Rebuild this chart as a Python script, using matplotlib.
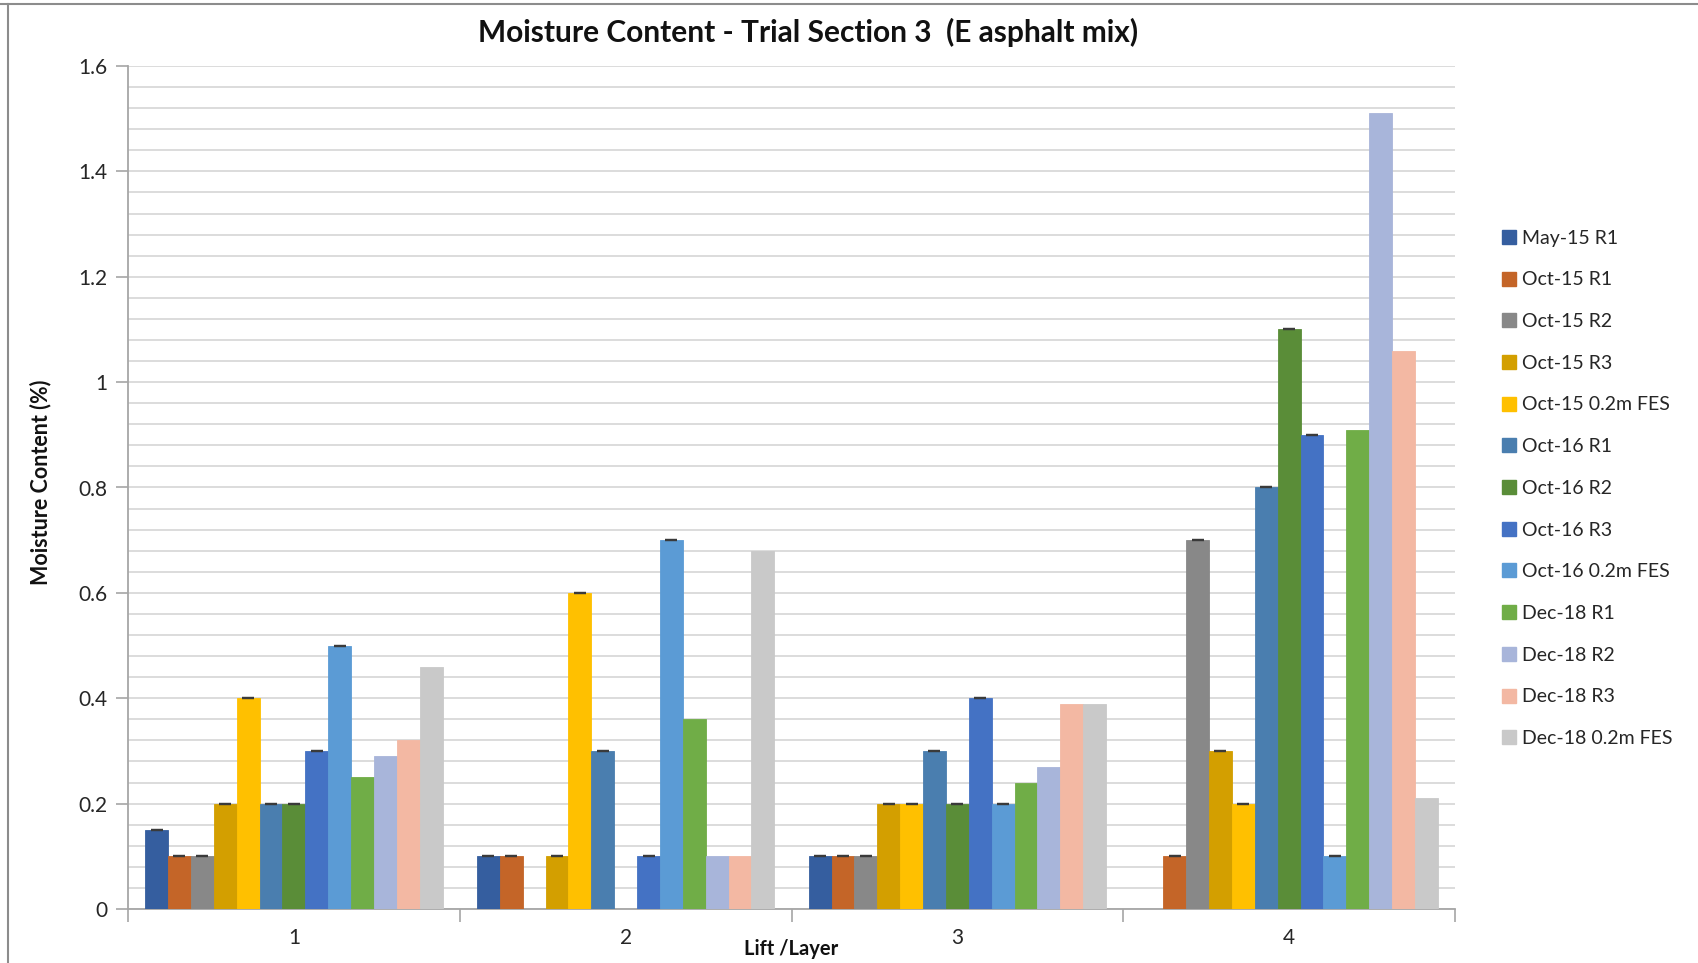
import numpy as np
import matplotlib
matplotlib.use("Agg")
import matplotlib.pyplot as plt
from matplotlib.ticker import MultipleLocator, FixedLocator, NullFormatter
from matplotlib.lines import Line2D

# Lift / layer categories
layers = ["1", "2", "3", "4"]

# Moisture content (%) per survey series; nan = no measurement
may15_r1 = [0.15, 0.10, 0.10, np.nan]
oct15_r1 = [0.10, 0.10, 0.10, 0.10]
oct15_r2 = [0.10, np.nan, 0.10, 0.70]
oct15_r3 = [0.20, 0.10, 0.20, 0.30]
oct15_fes = [0.40, 0.60, 0.20, 0.20]
oct16_r1 = [0.20, 0.30, 0.30, 0.80]
oct16_r2 = [0.20, np.nan, 0.20, 1.10]
oct16_r3 = [0.30, 0.10, 0.40, 0.90]
oct16_fes = [0.50, 0.70, 0.20, 0.10]
dec18_r1 = [0.25, 0.36, 0.24, 0.91]
dec18_r2 = [0.29, 0.10, 0.27, 1.51]
dec18_r3 = [0.32, 0.10, 0.39, 1.06]
dec18_fes = [0.46, 0.68, 0.39, 0.21]

series_names = ["May-15 R1", "Oct-15 R1", "Oct-15 R2", "Oct-15 R3", "Oct-15 0.2m FES",
                "Oct-16 R1", "Oct-16 R2", "Oct-16 R3", "Oct-16 0.2m FES",
                "Dec-18 R1", "Dec-18 R2", "Dec-18 R3", "Dec-18 0.2m FES"]
series_values = [may15_r1, oct15_r1, oct15_r2, oct15_r3, oct15_fes,
                 oct16_r1, oct16_r2, oct16_r3, oct16_fes,
                 dec18_r1, dec18_r2, dec18_r3, dec18_fes]
series_colors = ["#355E9F", "#C46528", "#888888", "#D39F00", "#FFC000",
                 "#4A7EAF", "#5A8D38", "#4472C4", "#5B9BD5",
                 "#70AD47", "#A8B5DA", "#F3B8A3", "#C9C9C9"]
# series plotted with (zero-length) error bars
with_errorbars = [True] * 9 + [False] * 4

plt.rcParams["font.family"] = ["Lato", "DejaVu Sans"]

fig = plt.figure(figsize=(16.98, 9.63), dpi=100)
ax = fig.add_axes([128 / 1698, 1 - 909 / 963, (1455 - 128) / 1698, (909 - 66) / 963])

n = len(series_values)
width = 1.0 / (n + 1.5)
x = np.arange(len(layers))

for i, (name, vals, col, eb) in enumerate(zip(series_names, series_values, series_colors, with_errorbars)):
    pos = x + (i - (n - 1) / 2) * width
    ax.bar(pos, vals, width=width, color=col, edgecolor=col, linewidth=0.6, label=name, zorder=3)
    if eb:
        ax.errorbar(pos, vals, yerr=np.zeros(len(vals)), fmt="none", ecolor="#3a3a3a",
                    elinewidth=1.2, capsize=4.3, capthick=1.6, zorder=4)

ax.set_xlim(-0.5, len(layers) - 0.5)
ax.set_ylim(0, 1.6)

# y axis: labelled ticks every 0.2, gridlines every 0.04
ax.yaxis.set_minor_locator(MultipleLocator(0.04))
ax.set_yticks(np.arange(0, 1.61, 0.2))
ax.set_yticklabels(["0", "0.2", "0.4", "0.6", "0.8", "1", "1.2", "1.4", "1.6"])
ax.grid(which="both", axis="y", color="#D9D9D9", linewidth=1.3, zorder=0)
ax.tick_params(axis="y", which="major", length=9, width=1.2, color="#A6A6A6",
               labelsize=15, labelcolor="#262626", pad=6)
ax.tick_params(axis="y", which="minor", length=0)

# x axis: tick marks at category boundaries, labels at centres
ax.xaxis.set_major_locator(FixedLocator(np.arange(-0.5, len(layers), 1.0)))
ax.xaxis.set_major_formatter(NullFormatter())
ax.xaxis.set_minor_locator(FixedLocator(x))
ax.set_xticklabels(layers, minor=True)
ax.tick_params(axis="x", which="major", length=9, width=1.2, color="#A6A6A6")
ax.tick_params(axis="x", which="minor", length=0, labelsize=15, labelcolor="#262626", pad=14)

for s in ["top", "right"]:
    ax.spines[s].set_visible(False)
for s in ["left", "bottom"]:
    ax.spines[s].set_color("#A6A6A6")
    ax.spines[s].set_linewidth(1.3)
ax.set_axisbelow(True)

ax.set_ylabel("Moisture Content (%)", fontsize=15.5, fontweight="bold", color="#111111")
ax.yaxis.set_label_coords(-0.058, 0.506)
ax.set_xlabel("Lift /Layer", fontsize=14.5, fontweight="bold", color="#111111")
ax.xaxis.set_label_coords(0.5, -0.036)

fig.text(808 / 1698, 0.966, "Moisture Content - Trial Section 3  (E asphalt mix)", ha="center", va="center",
         fontsize=21.5, fontweight="bold", color="#111111")

handles = [Line2D([], [], marker="s", linestyle="none", markersize=9.5, markerfacecolor=c,
                  markeredgecolor=c) for c in series_colors]
leg = fig.legend(handles, series_names, loc="upper left", bbox_to_anchor=(1491 / 1698, 1 - 220 / 963),
                 frameon=False, fontsize=14, labelspacing=1.27, handlelength=0.8, handletextpad=0.3,
                 labelcolor="#262626", borderpad=0)

# chart-area border lines along the top and left edges
fig.add_artist(Line2D([0, 1], [1 - 4.5 / 963] * 2, transform=fig.transFigure, color="#8C8C8C", linewidth=1.5))
fig.add_artist(Line2D([7.5 / 1698] * 2, [0, 1 - 4.5 / 963], transform=fig.transFigure, color="#8C8C8C", linewidth=1.5))

fig.savefig("out.png", dpi=100, facecolor="white")
